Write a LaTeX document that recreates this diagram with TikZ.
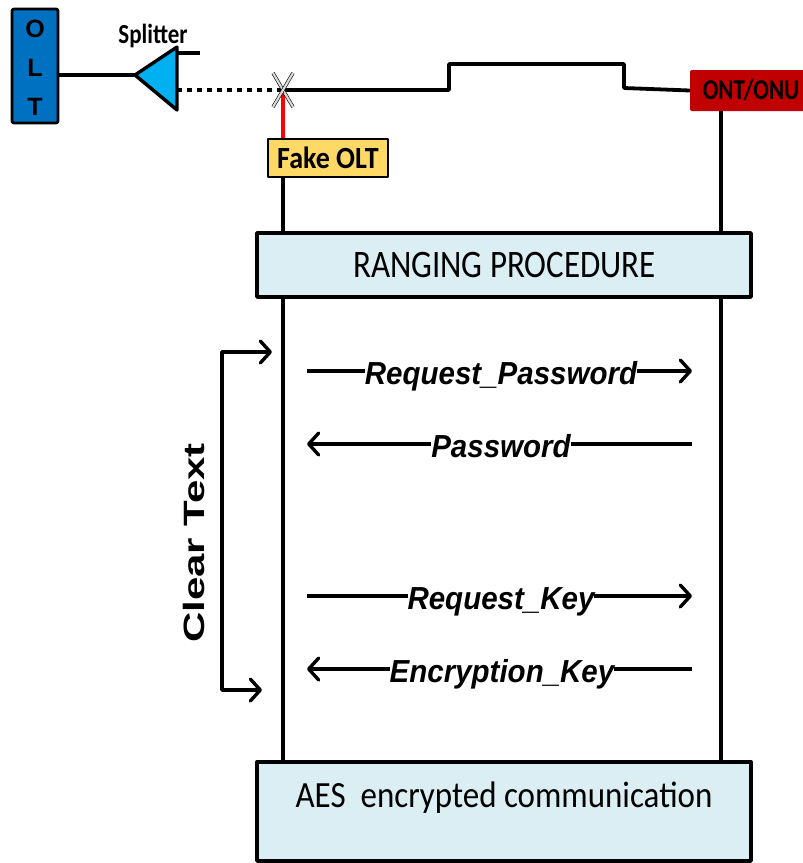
\documentclass[tikz,border=0pt]{standalone}
\usepackage{fontspec}
\setmainfont{Liberation Sans}
\newfontfamily\calib{Carlito}
\usetikzlibrary{arrows.meta}
\definecolor{oltblue}{HTML}{0070C0}
\definecolor{splitcyan}{HTML}{00B0F0}
\definecolor{ontred}{HTML}{C00000}
\definecolor{fakegold}{HTML}{FFD966}
\definecolor{phasefill}{HTML}{DAEEF3}
\newcommand{\fsz}[1]{\fontsize{#1}{#1}\selectfont}

\begin{document}
\begin{tikzpicture}[x=1pt,y=-1pt,line join=round,
  wire/.style={line width=3.8pt},
  lifeline/.style={line width=3.4pt},
  msgline/.style={line width=3.4pt,-{Straight Barb[length=10pt,width=22pt,round]}},
  msglabel/.style={anchor=base,fill=white,inner xsep=0pt,inner ysep=1pt,
    font=\fsz{29.5}\bfseries\itshape},
  phasebox/.style={draw,line width=3.4pt,fill=phasefill,minimum width=494pt,inner sep=0pt},
  phaselabel/.style={anchor=base,inner sep=0pt,font=\calib\fsz{33}},
  oltletter/.style={anchor=base,inner sep=0pt,font=\fsz{25}\bfseries},
  crossmark/.style={line width=0.6pt,double=gray!30,double distance=2.2pt}]

\useasboundingbox (0,0) rectangle (803,863);

% ---- OLT head end and splitter ----
\node[draw,line width=2.8pt,fill=oltblue,rounded corners=2pt,
      minimum width=46pt,minimum height=114pt,inner sep=0pt] (olt) at (35,66) {};
\node[oltletter] (oltO) at (35,37) {O};
\node[oltletter] (oltL) at (35,76) {L};
\node[oltletter] (oltT) at (35,115) {T};

\coordinate (sptip) at (135,75);
\coordinate (sptop) at (177,47);
\coordinate (spbot) at (177,110);
\coordinate (spstub) at (177,53);
\coordinate (spout) at (200,53);
\coordinate (spdrop) at (177,90);

\draw[wire] (olt.east |- sptip) -- (sptip);
\draw[line width=3.4pt,fill=splitcyan] (sptip) -- (sptop) -- (spbot) -- cycle;
\draw[wire] (spstub) -- (spout);
\node[anchor=base,inner sep=0pt,font=\calib\fsz{23}\bfseries] (splitlbl) at (153,43)
  {\scalebox{1}[1.2]{Splitter}};

% ---- tap point, fake OLT and ONT ----
\coordinate (tap) at (283,90);
\coordinate (onux) at (721,111);

\draw[line width=3.6pt,dash pattern=on 5pt off 5pt] (spdrop) -- (tap);

\node[draw,line width=1.5pt,fill=fakegold,minimum width=120pt,minimum height=38pt,
      inner sep=0pt,font=\calib\fsz{28}\bfseries] (fake) at (328,158)
  {\scalebox{1}[1.1]{Fake OLT}};
\node[fill=ontred,rounded corners=2pt,minimum width=122pt,minimum height=41pt,
      inner sep=0pt,font=\calib\fsz{23}\bfseries] (ont) at (751,90.5)
  {\scalebox{1}[1.25]{ONT/ONU}};

\draw[wire] (tap) -- (449,90) -- (449,64) -- (624,64) -- (624,88) -- (ont.west);
\draw[line width=3.4pt,red] (tap) -- (tap |- fake.north);
\draw[crossmark] (273,73) -- (293,107);
\draw[crossmark] (293,73) -- (273,107);

% ---- protocol phases ----
\node[phasebox,minimum height=64pt] (ranging) at (504,265) {};
\node[phaselabel] (ranglbl) at (504.5,277) {\scalebox{1}[1.18]{RANGING PROCEDURE}};
\node[phasebox,minimum height=99pt] (aes) at (504,811.5) {};
\node[phaselabel] (aeslbl) at (504,807) {\scalebox{1}[1.12]{AES\ \ encrypted communication}};

% ---- lifelines ----
\draw[lifeline] (fake.south -| tap) -- (ranging.north -| tap);
\draw[lifeline] (ranging.south -| tap) -- (aes.north -| tap);
\draw[lifeline] (ont.south -| onux) -- (ranging.north -| onux);
\draw[lifeline] (ranging.south -| onux) -- (aes.north -| onux);

% ---- message exchange ----
\coordinate (m1l) at (307,371); \coordinate (m1r) at (692,371);
\coordinate (m2l) at (307,444); \coordinate (m2r) at (692,444);
\coordinate (m3l) at (307,596); \coordinate (m3r) at (692,596);
\coordinate (m4l) at (307,669); \coordinate (m4r) at (692,669);

\draw[msgline] (m1l) -- (m1r);
\draw[msgline] (m2r) -- (m2l);
\draw[msgline] (m3l) -- (m3r);
\draw[msgline] (m4r) -- (m4l);

\node[msglabel] (reqpw) at (501,384) {\scalebox{1}[1.08]{Request\_Password}};
\node[msglabel] (pw) at (501,457) {\scalebox{1}[1.08]{Password}};
\node[msglabel] (reqkey) at (501,609) {\scalebox{1}[1.08]{Request\_Key}};
\node[msglabel] (enckey) at (502,682) {\scalebox{1}[1.08]{Encryption\_Key}};

% ---- clear-text span ----
\coordinate (cttop) at (272,352);
\coordinate (ctv1) at (222,352);
\coordinate (ctv2) at (222,690);
\coordinate (ctbot) at (262,690);
\draw[line width=3.4pt,{Straight Barb[length=10pt,width=22pt,round]}-{Straight Barb[length=10pt,width=22pt,round]}]
  (cttop) -- (ctv1) -- (ctv2) -- (ctbot);
\node[rotate=90,anchor=base,inner sep=0pt,font=\fsz{28}\bfseries] (cleartext) at (204,543)
  {\scalebox{1.5}[1.05]{Clear Text}};

\end{tikzpicture}
\end{document}
